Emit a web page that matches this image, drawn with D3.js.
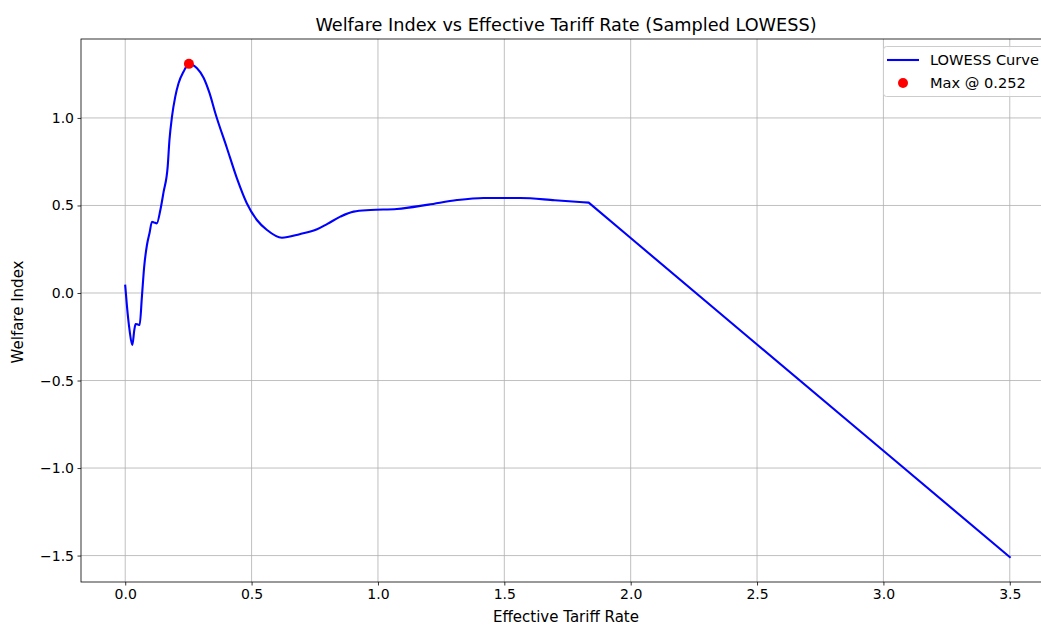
<!DOCTYPE html>
<html>
<head>
<meta charset="utf-8">
<script src="https://cdn.jsdelivr.net/npm/d3@7"></script>
<style>
  html, body { margin: 0; padding: 0; background: #fff; overflow: hidden; }
  svg { display: block; font-family: "DejaVu Sans", sans-serif; }
</style>
</head>
<body>
<svg id="chart" width="1041" height="625"></svg>
<script>
// Sampled LOWESS curve of welfare index against effective tariff rate
const tariffRate = [0, 0.007, 0.017, 0.028, 0.036, 0.041, 0.050, 0.057, 0.066, 0.075, 0.086, 0.096,
  0.106, 0.115, 0.125, 0.139, 0.152, 0.168, 0.175, 0.185, 0.198, 0.211, 0.231, 0.252, 0.284,
  0.310, 0.334, 0.356, 0.402, 0.442, 0.481, 0.521, 0.561, 0.620, 0.690, 0.759, 0.800, 0.851,
  0.904, 0.970, 1.075, 1.200, 1.313, 1.418, 1.563, 1.700, 1.834, 2.0, 2.5, 3.0, 3.5];
const welfareIndex = [0.042, -0.078, -0.211, -0.297, -0.211, -0.177, -0.180, -0.183, -0.021, 0.150, 0.274, 0.341,
  0.407, 0.402, 0.398, 0.474, 0.579, 0.722, 0.874, 1.007, 1.122, 1.198, 1.265, 1.309, 1.284,
  1.230, 1.140, 1.030, 0.830, 0.655, 0.513, 0.417, 0.360, 0.316, 0.336, 0.364, 0.395, 0.436,
  0.465, 0.474, 0.480, 0.505, 0.531, 0.543, 0.543, 0.530, 0.516, 0.314, -0.294, -0.901, -1.509];
// index of the last smoothed sample; beyond it the curve runs straight
const kinkIndex = 46;
const xTicks = [0.0, 0.5, 1.0, 1.5, 2.0, 2.5, 3.0, 3.5];
const yTicks = [-1.5, -1.0, -0.5, 0.0, 0.5, 1.0];
const maxRate = 0.252;
const maxWelfare = 1.309;
const legendLabels = ["LOWESS Curve", "Max @ 0.252"];

const svg = d3.select("#chart");
const plot = { left: 81, right: 1054, top: 39, bottom: 582 };

const x = d3.scaleLinear().domain([-0.175, 3.675]).range([plot.left, plot.right]);
const y = d3.scaleLinear().domain([-1.651, 1.451]).range([plot.bottom, plot.top]);

// grid
const grid = svg.append("g");
grid.selectAll("line.gx").data(xTicks).join("line")
  .attr("x1", d => x(d)).attr("x2", d => x(d))
  .attr("y1", plot.top).attr("y2", plot.bottom)
  .attr("stroke", "#b0b0b0").attr("stroke-width", 0.8);
grid.selectAll("line.gy").data(yTicks).join("line")
  .attr("y1", d => y(d)).attr("y2", d => y(d))
  .attr("x1", plot.left).attr("x2", plot.right)
  .attr("stroke", "#b0b0b0").attr("stroke-width", 0.8);

// curve: smooth section followed by a straight tail
const pts = tariffRate.map((t, i) => [t, welfareIndex[i]]);
const smooth = d3.line().x(d => x(d[0])).y(d => y(d[1])).curve(d3.curveMonotoneX);
const straight = d3.line().x(d => x(d[0])).y(d => y(d[1])).curve(d3.curveLinear);
const pathD = smooth(pts.slice(0, kinkIndex + 1)) + straight(pts.slice(kinkIndex)).replace(/^M/, "L");
svg.append("path")
  .attr("d", pathD)
  .attr("fill", "none")
  .attr("stroke", "#0000ff")
  .attr("stroke-width", 2.1)
  .attr("stroke-linejoin", "round")
  .attr("stroke-linecap", "square");

// maximum marker
svg.append("circle")
  .attr("cx", x(maxRate)).attr("cy", y(maxWelfare)).attr("r", 5)
  .attr("fill", "#ff0000");

// axes
const xAxis = d3.axisBottom(x).tickValues(xTicks).tickFormat(d3.format(".1f")).tickSize(3.5).tickPadding(3.5);
const yAxis = d3.axisLeft(y).tickValues(yTicks).tickFormat(d3.format(".1f")).tickSize(3.5).tickPadding(3.5);

const gx = svg.append("g").attr("transform", `translate(0,${plot.bottom})`).call(xAxis);
const gy = svg.append("g").attr("transform", `translate(${plot.left},0)`).call(yAxis);
[gx, gy].forEach(g => {
  g.select(".domain").remove();
  g.selectAll(".tick line").attr("stroke", "#000").attr("stroke-width", 0.8);
  g.selectAll(".tick text").attr("fill", "#000").attr("font-size", 14).attr("font-family", "DejaVu Sans");
});
gy.selectAll(".tick text").text(d => d3.format(".1f")(d).replace("-", "\u2212"));

// spines
svg.append("rect")
  .attr("x", plot.left).attr("y", plot.top)
  .attr("width", plot.right - plot.left).attr("height", plot.bottom - plot.top)
  .attr("fill", "none").attr("stroke", "#000").attr("stroke-width", 0.8);

// labels
svg.append("text").attr("x", 566).attr("y", 31)
  .attr("text-anchor", "middle").attr("font-size", 17.7)
  .text("Welfare Index vs Effective Tariff Rate (Sampled LOWESS)");
svg.append("text").attr("x", 566).attr("y", 622)
  .attr("text-anchor", "middle").attr("font-size", 15)
  .text("Effective Tariff Rate");
svg.append("text").attr("transform", `translate(23,312) rotate(-90)`)
  .attr("text-anchor", "middle").attr("font-size", 15)
  .text("Welfare Index");

// legend
const lg = svg.append("g");
lg.append("rect").attr("x", 883.5).attr("y", 46.5).attr("width", 163).attr("height", 50)
  .attr("rx", 3).attr("fill", "#fff").attr("fill-opacity", 0.8)
  .attr("stroke", "#cccccc").attr("stroke-width", 1);
lg.append("line").attr("x1", 887).attr("x2", 919).attr("y1", 60).attr("y2", 60)
  .attr("stroke", "#0000ff").attr("stroke-width", 2.1);
lg.append("circle").attr("cx", 903).attr("cy", 83).attr("r", 5).attr("fill", "#ff0000");
lg.selectAll("text").data(legendLabels).join("text")
  .attr("x", 930).attr("y", (d, i) => 65 + i * 23)
  .attr("font-size", 14.6).text(d => d);
</script>
</body>
</html>
